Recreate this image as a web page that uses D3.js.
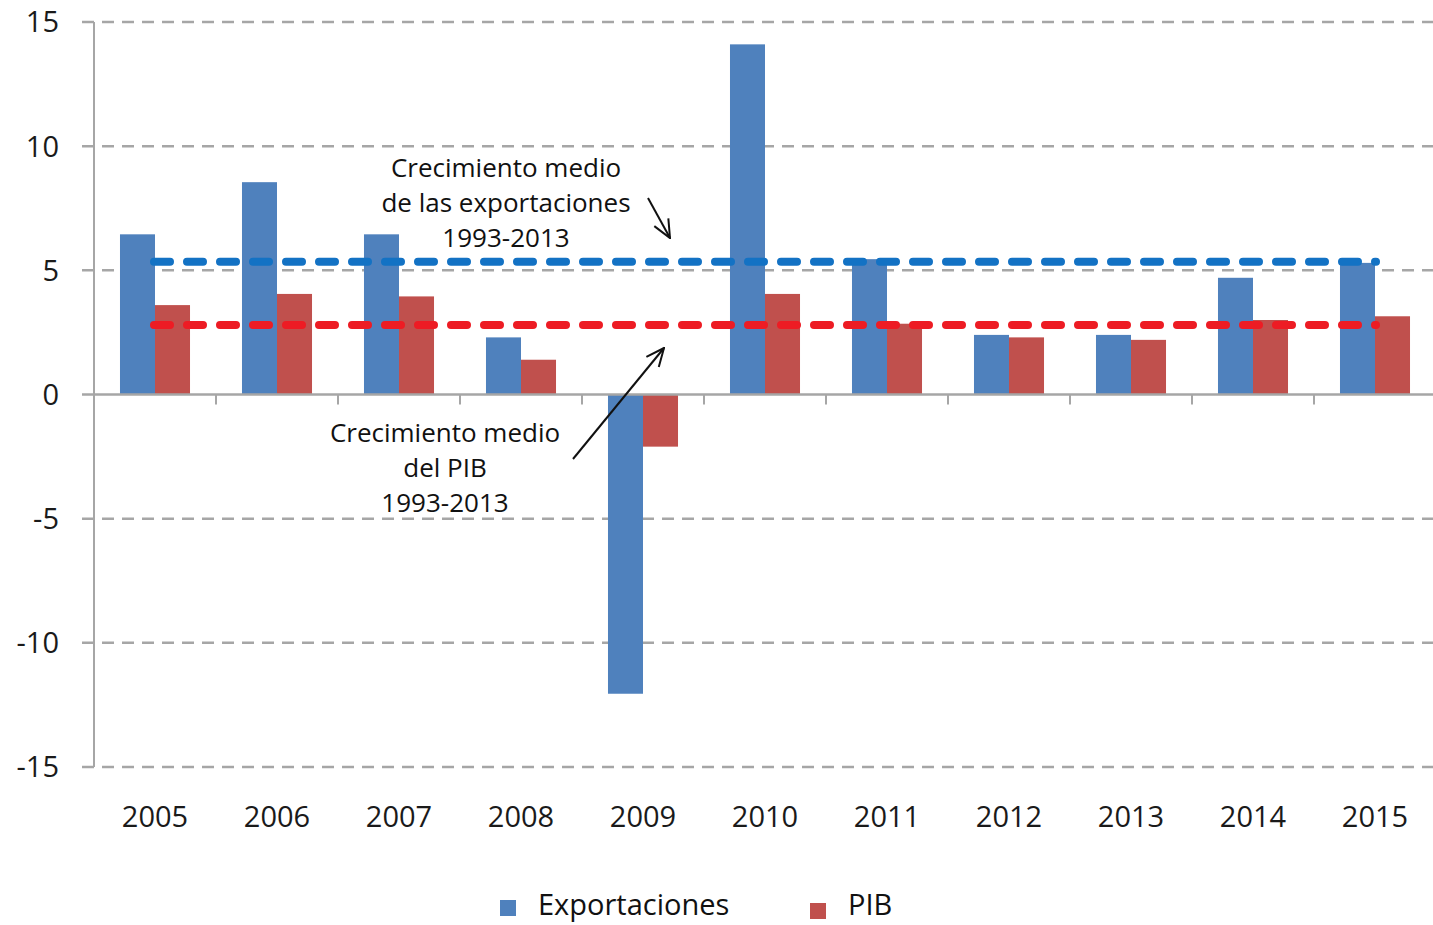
<!DOCTYPE html>
<html>
<head>
<meta charset="utf-8">
<script src="https://cdn.jsdelivr.net/npm/d3@7"></script>
<style>
  body { margin: 0; background: #fff; }
  text { font-family: "Open Sans", sans-serif; }
</style>
</head>
<body>
<script>
var years = ["2005","2006","2007","2008","2009","2010","2011","2012","2013","2014","2015"];
var exportaciones = [6.45, 8.55, 6.45, 2.3, -12.05, 14.1, 5.45, 2.4, 2.4, 4.7, 5.3];
var pib = [3.6, 4.05, 3.95, 1.4, -2.1, 4.05, 2.85, 2.3, 2.2, 3.0, 3.15];
var seriesNames = ["Exportaciones", "PIB"];
var seriesColors = ["#4f81bd", "#c0504d"];
var yTicks = [-15, -10, -5, 0, 5, 10, 15];
var avgExport = 5.35, avgPib = 2.8;

var width = 1433,
    height = 925;

var svg = d3.select("body").append("svg")
    .attr("width", width)
    .attr("height", height);

var x = d3.scaleBand().domain(years).range([94, 1436]).paddingInner(0.426).paddingOuter(0.213);
var xOuter = d3.scaleBand().domain(years).range([94, 1436]);
var xSeries = d3.scaleBand().domain(seriesNames).range([0, x.bandwidth()]);
var y = d3.scaleLinear().domain([-15, 15]).range([767, 22]);

// gridlines
svg.append("g").selectAll("line")
    .data(yTicks.filter(function(d) { return d !== 0; }))
  .enter().append("line")
    .attr("x1", 82).attr("x2", width)
    .attr("y1", function(d) { return y(d); })
    .attr("y2", function(d) { return y(d); })
    .attr("stroke", "#a6a6a6")
    .attr("stroke-width", 2.5)
    .attr("stroke-dasharray", "12,8");

// y axis line
svg.append("line")
    .attr("x1", 94).attr("x2", 94)
    .attr("y1", y(15)).attr("y2", y(-15))
    .attr("stroke", "#a6a6a6").attr("stroke-width", 2);

// y tick labels
svg.append("g").selectAll("text")
    .data(yTicks)
  .enter().append("text")
    .attr("x", 59)
    .attr("y", function(d) { return y(d); })
    .attr("dy", "0.36em")
    .attr("text-anchor", "end")
    .attr("font-size", 29)
    .attr("fill", "#1a1a1a")
    .text(function(d) { return d; });

// bars
var rows = years.map(function(yr, i) { return { year: yr, values: [exportaciones[i], pib[i]] }; });
var group = svg.append("g").selectAll("g")
    .data(rows)
  .enter().append("g")
    .attr("transform", function(d) { return "translate(" + x(d.year) + ",0)"; });

group.selectAll("rect")
    .data(function(d) { return d.values.map(function(v, j) { return { name: seriesNames[j], value: v, color: seriesColors[j] }; }); })
  .enter().append("rect")
    .attr("x", function(d) { return xSeries(d.name); })
    .attr("width", xSeries.bandwidth())
    .attr("y", function(d) { return y(Math.max(0, d.value)); })
    .attr("height", function(d) { return Math.abs(y(d.value) - y(0)); })
    .attr("fill", function(d) { return d.color; });

// zero line + category ticks
svg.append("line")
    .attr("x1", 82).attr("x2", width)
    .attr("y1", y(0)).attr("y2", y(0))
    .attr("stroke", "#a6a6a6").attr("stroke-width", 2.5);

svg.append("g").selectAll("line")
    .data(years.slice(1))
  .enter().append("line")
    .attr("x1", function(d) { return xOuter(d); })
    .attr("x2", function(d) { return xOuter(d); })
    .attr("y1", y(0)).attr("y2", y(0) + 10)
    .attr("stroke", "#a6a6a6").attr("stroke-width", 2);

// x labels
svg.append("g").selectAll("text")
    .data(years)
  .enter().append("text")
    .attr("x", function(d) { return xOuter(d) + xOuter.bandwidth() / 2; })
    .attr("y", 827)
    .attr("text-anchor", "middle")
    .attr("font-size", 29)
    .attr("fill", "#1a1a1a")
    .text(function(d) { return d; });

// average lines
var avgLines = [{ v: avgExport, c: "#1372c4" }, { v: avgPib, c: "#ed1c24" }];
svg.append("g").selectAll("line")
    .data(avgLines)
  .enter().append("line")
    .attr("x1", 154).attr("x2", 1376)
    .attr("y1", function(d) { return y(d.v); })
    .attr("y2", function(d) { return y(d.v); })
    .attr("stroke", function(d) { return d.c; })
    .attr("stroke-width", 8)
    .attr("stroke-linecap", "round")
    .attr("stroke-dasharray", "16,17");

// annotations
var defs = svg.append("defs");
defs.append("marker")
    .attr("id", "arrow")
    .attr("viewBox", "0 0 20 20")
    .attr("refX", 19).attr("refY", 10)
    .attr("markerWidth", 20).attr("markerHeight", 20)
    .attr("markerUnits", "userSpaceOnUse")
    .attr("orient", "auto")
  .append("path")
    .attr("d", "M1,2 L19,10 L1,18")
    .attr("fill", "none")
    .attr("stroke", "#111")
    .attr("stroke-width", 2);

var notes = [
  { lines: ["Crecimiento medio", "de las exportaciones", "1993-2013"], cx: 506, y0: 177 },
  { lines: ["Crecimiento medio", "del PIB", "1993-2013"], cx: 445, y0: 442 }
];
notes.forEach(function(n) {
  svg.append("text")
      .attr("x", n.cx).attr("y", n.y0)
      .attr("text-anchor", "middle")
      .attr("font-size", 26)
      .attr("fill", "#111")
    .selectAll("tspan")
      .data(n.lines)
    .enter().append("tspan")
      .attr("x", n.cx)
      .attr("dy", function(d, i) { return i === 0 ? 0 : 35; })
      .text(function(d) { return d; });
});

var arrows = [[648, 198, 670, 238], [573, 459, 664, 348]];
svg.append("g").selectAll("line")
    .data(arrows)
  .enter().append("line")
    .attr("x1", function(d) { return d[0]; })
    .attr("y1", function(d) { return d[1]; })
    .attr("x2", function(d) { return d[2]; })
    .attr("y2", function(d) { return d[3]; })
    .attr("stroke", "#111")
    .attr("stroke-width", 2)
    .attr("marker-end", "url(#arrow)");

// legend
var legend = [{ name: "Exportaciones", x: 500, c: seriesColors[0] }, { name: "PIB", x: 810, c: seriesColors[1] }];
var lg = svg.append("g").selectAll("g")
    .data(legend)
  .enter().append("g")
    .attr("transform", function(d) { return "translate(" + d.x + ",0)"; });
lg.append("rect")
    .attr("y", function(d, i) { return 900 + i * 3; })
    .attr("width", 16).attr("height", 16)
    .attr("fill", function(d) { return d.c; });
lg.append("text")
    .attr("x", 38).attr("y", 915)
    .attr("font-size", 29)
    .attr("fill", "#111")
    .text(function(d) { return d.name; });
</script>
</body>
</html>
